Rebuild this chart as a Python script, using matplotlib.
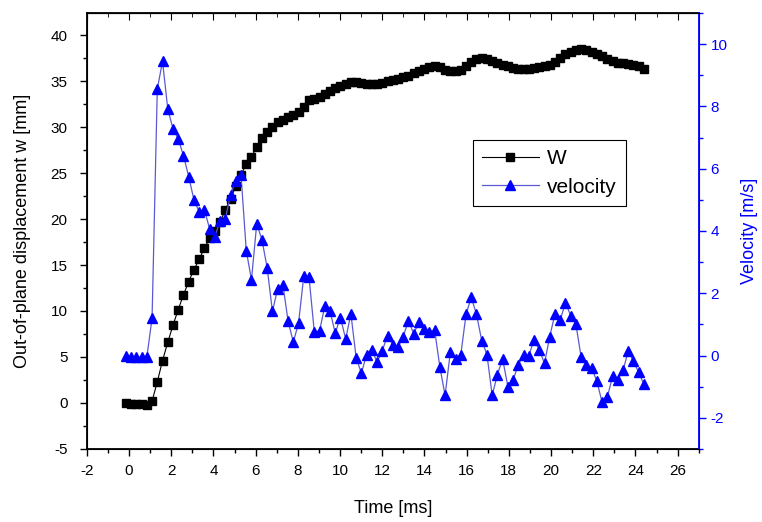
"""Out-of-plane displacement and velocity vs time (Origin-style twin axis plot)."""
import numpy as np
import matplotlib
matplotlib.use("Agg")
import matplotlib.pyplot as plt
from matplotlib.ticker import MultipleLocator

plt.rcParams["font.family"] = ["Liberation Sans", "DejaVu Sans"]
plt.rcParams["axes.unicode_minus"] = False

# sample grid (uniform, ~0.25 ms)
t0 = -0.15
dt = 0.248
n_samples = 100

# displacement w [mm]
w_mm = [
    0.0, -0.15, -0.15, -0.15, -0.2, 0.2, 2.3, 4.6, 6.6, 8.45,
    10.15, 11.75, 13.2, 14.5, 15.6, 16.85, 17.9, 18.75, 19.65, 21.0,
    22.2, 23.6, 24.8, 26.0, 26.8, 27.8, 28.8, 29.5, 30.0, 30.5,
    30.8, 31.1, 31.3, 31.6, 32.2, 32.9, 33.1, 33.3, 33.6, 33.9,
    34.2, 34.45, 34.7, 34.9, 34.9, 34.8, 34.7, 34.7, 34.7, 34.75,
    35.0, 35.1, 35.2, 35.4, 35.6, 35.85, 36.1, 36.3, 36.5, 36.6,
    36.5, 36.2, 36.1, 36.1, 36.2, 36.6, 37.1, 37.35, 37.5, 37.45,
    37.2, 36.95, 36.8, 36.6, 36.45, 36.35, 36.3, 36.35, 36.45, 36.5,
    36.6, 36.8, 37.1, 37.5, 37.9, 38.2, 38.4, 38.45, 38.35, 38.2,
    37.95, 37.7, 37.4, 37.15, 37.0, 36.95, 36.9, 36.8, 36.6, 36.3,
]

# velocity [m/s]
vel = [
    0.0, -0.05, -0.05, -0.05, -0.05, 1.2, 8.56, 9.45, 7.92, 7.28,
    6.96, 6.42, 5.75, 5.0, 4.62, 4.68, 4.07, 3.82, 4.33, 4.39,
    5.17, 5.62, 5.8, 3.37, 2.43, 4.23, 3.72, 2.81, 1.42, 2.14,
    2.28, 1.10, 0.43, 1.05, 2.57, 2.51, 0.77, 0.78, 1.58, 1.44,
    0.72, 1.22, 0.53, 1.34, -0.07, -0.57, 0.03, 0.18, -0.21, 0.16,
    0.64, 0.34, 0.27, 0.61, 1.12, 0.70, 1.07, 0.86, 0.75, 0.82,
    -0.37, -1.28, 0.11, -0.11, 0.02, 1.32, 1.87, 1.32, 0.48, 0.03,
    -1.28, -0.61, -0.11, -1.0, -0.78, -0.30, 0.03, 0.0, 0.50, 0.18,
    -0.25, 0.61, 1.34, 1.14, 1.70, 1.28, 1.0, -0.05, -0.29, -0.40,
    -0.82, -1.5, -1.34, -0.67, -0.78, -0.48, 0.14, -0.19, -0.54, -0.93,
]

time_ms = t0 + dt * np.arange(n_samples)

BLUE = "#0000ff"

fig = plt.figure(figsize=(7.62, 5.22), dpi=100)
ax = fig.add_axes([0.114, 0.140, 0.803, 0.835])
ax2 = ax.twinx()

l1, = ax.plot(time_ms, w_mm, color="black", lw=0.8,
              marker="s", ms=5.5, mfc="black", mec="black", label="W")
l2, = ax2.plot(time_ms, vel, color="#5a5ad2", lw=0.9,
               marker="^", ms=7.5, mfc=BLUE, mec=BLUE, label="velocity")

ax.set_xlim(-2, 27)
ax.set_ylim(-5, 42.4)
ax2.set_ylim(-3, 11)

ax.xaxis.set_major_locator(MultipleLocator(2))
ax.xaxis.set_minor_locator(MultipleLocator(1))
ax.yaxis.set_major_locator(MultipleLocator(5))
ax.yaxis.set_minor_locator(MultipleLocator(2.5))
ax2.yaxis.set_major_locator(MultipleLocator(2))
ax2.yaxis.set_minor_locator(MultipleLocator(1))

ax.tick_params(axis="both", which="major", direction="out", length=5,
               width=1, labelsize=11)
ax.tick_params(axis="y", which="major", pad=9)
ax.tick_params(axis="x", which="major", pad=6)
ax.tick_params(axis="both", which="minor", direction="out", length=3, width=1)
top = ax.secondary_xaxis("top")
top.xaxis.set_major_locator(MultipleLocator(2))
top.xaxis.set_minor_locator(MultipleLocator(1))
top.tick_params(which="major", direction="in", length=5, labeltop=False)
top.tick_params(which="minor", direction="in", length=3)

ax2.tick_params(axis="y", which="major", direction="out", length=5, width=1,
                colors=BLUE, labelsize=11)
ax2.tick_params(axis="y", which="minor", direction="out", length=3, width=1,
                colors=BLUE)
ax2.spines["right"].set_color(BLUE)
for sp in ("left", "bottom", "top"):
    ax.spines[sp].set_linewidth(1.3)
ax2.spines["right"].set_linewidth(1.3)

ax.set_xlabel("Time [ms]", fontsize=13, labelpad=16)
ax.set_ylabel("Out-of-plane displacement w [mm]", fontsize=13, labelpad=14)
ax2.set_ylabel("Velocity [m/s]", fontsize=13, color=BLUE, labelpad=10)

leg = ax2.legend([l1, l2], ["W", "velocity"], loc="upper left",
                 bbox_to_anchor=(0.631, 0.709), fontsize=15, frameon=True,
                 fancybox=False, framealpha=1, edgecolor="black",
                 handlelength=2.7, handletextpad=0.4, borderpad=0.45,
                 labelspacing=0.45, borderaxespad=0)
leg.get_frame().set_linewidth(0.8)

fig.savefig("out.png", dpi=100, facecolor="white")
